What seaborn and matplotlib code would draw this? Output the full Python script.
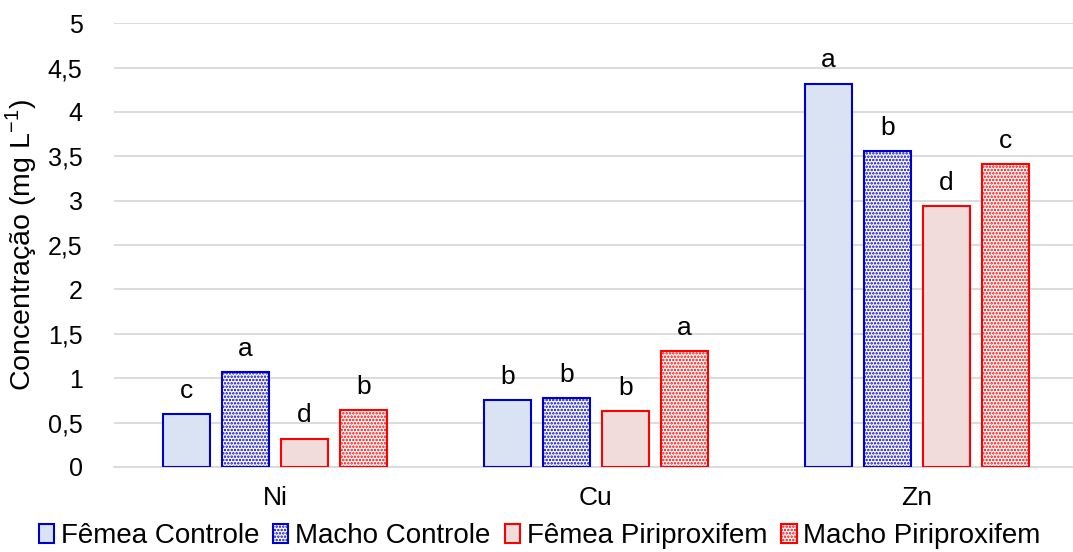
import matplotlib
matplotlib.use("Agg")
import matplotlib.pyplot as plt
import seaborn as sns
import pandas as pd
from matplotlib.patches import Patch

categories = ["Ni", "Cu", "Zn"]
series = ["Fêmea Controle", "Macho Controle", "Fêmea Piriproxifem", "Macho Piriproxifem"]
femea_controle = [0.60, 0.755, 4.32]
macho_controle = [1.07, 0.78, 3.56]
femea_piri = [0.32, 0.63, 2.94]
macho_piri = [0.64, 1.31, 3.41]
letters = {
    "Fêmea Controle": ["c", "b", "a"],
    "Macho Controle": ["a", "b", "b"],
    "Fêmea Piriproxifem": ["d", "b", "d"],
    "Macho Piriproxifem": ["b", "a", "c"],
}
yticks = [0, 0.5, 1, 1.5, 2, 2.5, 3, 3.5, 4, 4.5, 5]
ytick_labels = ["0", "0,5", "1", "1,5", "2", "2,5", "3", "3,5", "4", "4,5", "5"]

vals = [femea_controle, macho_controle, femea_piri, macho_piri]
rows = []
for s, v in zip(series, vals):
    for c, x in zip(categories, v):
        rows.append({"cat": c, "serie": s, "val": x})
df = pd.DataFrame(rows)

sns.set_theme(style="white")
plt.rcParams["font.family"] = ["Liberation Sans", "DejaVu Sans"]
plt.rcParams["hatch.linewidth"] = 1.2

blue = "#0000CC"
red = "#FF0000"
fills = ["#DAE3F3", "white", "#F2DCDB", "white"]
edges = [blue, blue, red, red]
hatches = [None, ".....", None, "....."]

fig = plt.figure(figsize=(10.73, 5.52), dpi=100)
ax = fig.add_axes([0.1067, 0.154, 0.8933, 0.804])

sns.barplot(data=df, x="cat", y="val", hue="serie", order=categories,
            hue_order=series, width=0.736, gap=0.21, ax=ax,
            palette=fills, legend=False, errorbar=None)

for i, cont in enumerate(ax.containers):
    for j, bar in enumerate(cont):
        bar.set_facecolor(fills[i])
        bar.set_edgecolor(edges[i])
        bar.set_linewidth(1.5)
        bar.set_zorder(3)
        if hatches[i]:
            bar.set_hatch(hatches[i])
            bar._hatch_color = matplotlib.colors.to_rgba(edges[i])
        h = bar.get_height()
        ax.annotate(letters[series[i]][j], (bar.get_x() + bar.get_width() / 2, h),
                    xytext=(0, 8), textcoords="offset points",
                    ha="center", va="bottom", fontsize=19, color="black")

ax.set_ylim(0, 5)
ax.set_xlim(-0.5, 2.486)
ax.set_yticks(yticks)
ax.set_yticklabels(ytick_labels, fontsize=18, color="black")
ax.tick_params(axis="x", labelsize=19, labelcolor="black", length=0, pad=14)
ax.tick_params(axis="y", length=0, pad=23)
ax.yaxis.grid(True, color="#D9D9D9", linewidth=1.3, zorder=0)
ax.set_axisbelow(True)
for sp in ["top", "right", "left"]:
    ax.spines[sp].set_visible(False)
ax.spines["bottom"].set_color("#D9D9D9")
ax.spines["bottom"].set_linewidth(1.3)
ax.set_xlabel("")
ax.set_ylabel("Concentração (mg L$^{\\mathregular{-1}}$)", fontsize=20.5, color="black")
ax.yaxis.set_label_coords(-0.079, 0.5)

handles = [Patch(facecolor=fills[i], edgecolor=edges[i], hatch=hatches[i], linewidth=1.5)
           for i in range(4)]
leg = fig.legend(handles, series, loc="lower center", ncol=4, frameon=False,
                 fontsize=20, bbox_to_anchor=(0.503, -0.04), handlelength=0.55,
                 handleheight=0.7, handletextpad=0.25, columnspacing=0.5,
                 labelcolor="black")
for i, p in enumerate(leg.get_patches()):
    if hatches[i]:
        p._hatch_color = matplotlib.colors.to_rgba(edges[i])

fig.savefig("out.png", dpi=100)
